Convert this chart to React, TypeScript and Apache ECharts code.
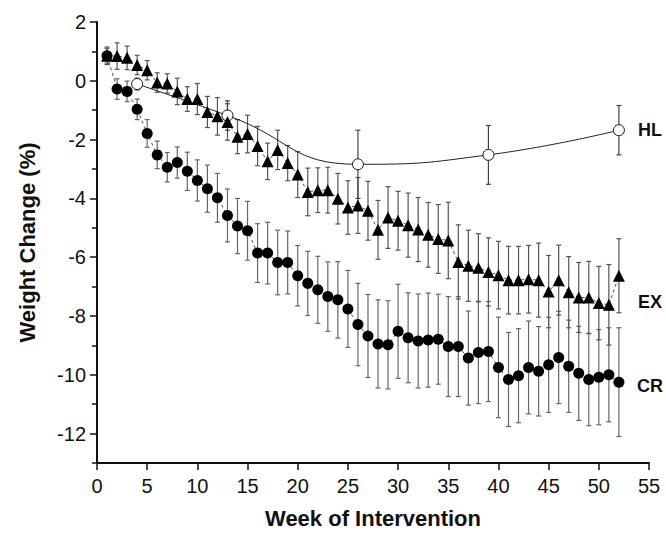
import React, { useEffect, useRef } from "react";
import * as echarts from "echarts";

const weeks = [1,2,3,4,5,6,7,8,9,10,11,12,13,14,15,16,17,18,19,20,21,22,23,24,25,26,27,28,29,30,31,32,33,34,35,36,37,38,39,40,41,42,43,44,45,46,47,48,49,50,51,52];

const crValues = [0.85,-0.28,-0.36,-0.97,-1.79,-2.52,-2.94,-2.78,-3.08,-3.39,-3.67,-3.98,-4.58,-4.94,-5.1,-5.86,-5.86,-6.18,-6.18,-6.63,-6.89,-7.11,-7.34,-7.45,-7.76,-8.29,-8.68,-8.95,-8.98,-8.52,-8.74,-8.85,-8.82,-8.79,-9.04,-9.04,-9.43,-9.24,-9.21,-9.75,-10.16,-10.03,-9.75,-9.88,-9.66,-9.41,-9.71,-9.95,-10.16,-10.08,-10.0,-10.25];
const crErrors = [0.25,0.35,0.35,0.35,0.47,0.47,0.5,0.53,0.65,0.7,0.8,0.83,0.9,0.94,1.0,1.0,1.05,1.1,1.07,1.03,1.09,1.14,1.18,1.3,1.31,1.4,1.41,1.5,1.5,1.6,1.53,1.6,1.6,1.53,1.7,1.7,1.6,1.74,1.7,1.71,1.6,1.6,1.58,1.52,1.62,1.57,1.57,1.6,1.57,1.62,1.6,1.85];

const exValues = [0.85,0.84,0.78,0.54,0.36,-0.06,-0.09,-0.36,-0.62,-0.62,-1.06,-1.21,-1.4,-1.9,-1.81,-2.22,-2.74,-2.35,-2.8,-3.19,-3.78,-3.72,-3.72,-4.01,-4.31,-4.24,-4.42,-5.07,-4.65,-4.76,-4.91,-5.06,-5.24,-5.38,-5.43,-6.16,-6.29,-6.36,-6.5,-6.61,-6.78,-6.78,-6.75,-6.78,-7.17,-6.78,-7.19,-7.37,-7.37,-7.56,-7.62,-6.63];
const exErrors = [0.3,0.45,0.4,0.33,0.33,0.33,0.33,0.45,0.42,0.53,0.53,0.64,0.62,0.58,0.64,0.67,0.62,0.67,0.6,0.78,0.81,0.76,0.78,0.86,0.91,0.95,1.0,1.0,1.05,1.0,1.09,1.09,1.1,1.17,1.3,1.26,1.21,1.16,1.16,1.15,1.15,1.15,1.15,1.26,1.23,1.19,1.21,1.19,1.23,1.25,1.37,1.26];

const hlWeeks = [4, 13, 26, 39, 52];
const hlValues = [-0.11, -1.18, -2.84, -2.52, -1.68];
const hlErrors = [0.2, 0.5, 1.16, 1.0, 0.84];

const yMajorTicks = [-12, -10, -8, -6, -4, -2, 0, 2];
const yMinorTicks = [-13, -11, -9, -7, -5, -3, -1, 1];

const FONT = "'Liberation Sans', Arial, Helvetica, sans-serif";

function errData(xs: number[], vs: number[], es: number[]) {
  return xs.map((x, i) => [x, vs[i] - es[i], vs[i] + es[i]]);
}

function errSeries(data: number[][], color: string) {
  return {
    type: "custom",
    z: 1,
    silent: true,
    data,
    renderItem: (params: any, api: any) => {
      const x = api.value(0);
      const lo = api.coord([x, api.value(1)]);
      const hi = api.coord([x, api.value(2)]);
      const cap = 2.5;
      const style = { stroke: color, lineWidth: 1.2 };
      return {
        type: "group",
        children: [
          { type: "line", shape: { x1: lo[0], y1: lo[1], x2: hi[0], y2: hi[1] }, style },
          { type: "line", shape: { x1: lo[0] - cap, y1: lo[1], x2: lo[0] + cap, y2: lo[1] }, style },
          { type: "line", shape: { x1: hi[0] - cap, y1: hi[1], x2: hi[0] + cap, y2: hi[1] }, style },
        ],
      };
    },
  };
}

export default function App() {
  const ref = useRef<HTMLDivElement>(null);
  useEffect(() => {
    if (!ref.current) return;
    const chart = echarts.init(ref.current, null, { renderer: "svg" });
    const axisLabelStyle = { color: "#111", fontSize: 20, fontFamily: FONT };
    chart.setOption({
      animation: false,
      backgroundColor: "#fff",
      grid: { left: 97, right: 17, top: 22, bottom: 67 },
      xAxis: {
        type: "value",
        min: 0,
        max: 55,
        interval: 5,
        name: "Week of Intervention",
        nameLocation: "middle",
        nameGap: 44,
        nameTextStyle: { color: "#111", fontSize: 22, fontWeight: "bold", fontFamily: FONT },
        axisLine: { show: true, onZero: false, lineStyle: { color: "#111", width: 2 } },
        axisTick: { show: true, inside: false, length: 7, lineStyle: { color: "#111", width: 1.5 } },
        axisLabel: { ...axisLabelStyle, margin: 13 },
        splitLine: { show: false },
      },
      yAxis: [
        {
          type: "value",
          min: -13,
          max: 2,
          interval: 1,
          name: "Weight Change (%)",
          nameLocation: "middle",
          nameGap: 59,
          nameTextStyle: { color: "#111", fontSize: 22, fontWeight: "bold", fontFamily: FONT },
          axisLine: { show: true, onZero: false, lineStyle: { color: "#111", width: 2 } },
          axisTick: { show: true, inside: false, length: 7, customValues: yMajorTicks, lineStyle: { color: "#111", width: 1.5 } },
          axisLabel: { ...axisLabelStyle, margin: 11, customValues: yMajorTicks },
          splitLine: { show: false },
        },
        {
          type: "value",
          min: -13,
          max: 2,
          interval: 1,
          position: "left",
          axisLine: { show: false },
          axisTick: { show: true, inside: false, length: 5, customValues: yMinorTicks, lineStyle: { color: "#111", width: 1.5 } },
          axisLabel: { show: false },
          splitLine: { show: false },
        },
      ],
      series: [
        errSeries(errData(weeks, crValues, crErrors), "#666"),
        errSeries(errData(weeks, exValues, exErrors), "#555"),
        errSeries(errData(hlWeeks, hlValues, hlErrors), "#444"),
        {
          type: "line",
          name: "HL",
          z: 2,
          data: hlWeeks.map((w, i) => [w, hlValues[i]]),
          smooth: 0.5,
          symbol: "circle",
          symbolSize: 11,
          itemStyle: { color: "#fff", borderColor: "#111", borderWidth: 1 },
          lineStyle: { color: "#222", width: 1 },
        },
        {
          type: "line",
          name: "EX",
          z: 3,
          data: weeks.map((w, i) => [w, exValues[i]]),
          symbol: "triangle",
          symbolSize: 12,
          itemStyle: { color: "#000" },
          lineStyle: { color: "#222", width: 0.8, type: [3, 3] },
        },
        {
          type: "line",
          name: "CR",
          z: 4,
          data: weeks.map((w, i) => [w, crValues[i]]),
          symbol: "circle",
          symbolSize: 11,
          itemStyle: { color: "#000" },
          lineStyle: { color: "#222", width: 0.8, type: [3, 3] },
        },
      ],
      graphic: [
        { type: "text", left: 638, top: 121, style: { text: "HL", fill: "#111", font: `bold 18px ${FONT}` } },
        { type: "text", left: 638, top: 293, style: { text: "EX", fill: "#111", font: `bold 18px ${FONT}` } },
        { type: "text", left: 637, top: 377, style: { text: "CR", fill: "#111", font: `bold 18px ${FONT}` } },
      ],
    });
    return () => chart.dispose();
  }, []);
  return <div ref={ref} style={{ position: "fixed", left: 0, top: 0, width: 666, height: 534, background: "#fff" }} />;
}
